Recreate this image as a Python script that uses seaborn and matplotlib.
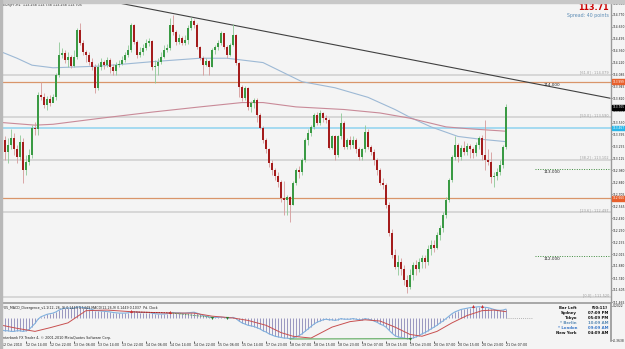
import matplotlib
matplotlib.use("Agg")
import matplotlib.pyplot as plt
import numpy as np
import pandas as pd
import seaborn as sns

# ---------------- data ----------------
first_open = 113.13
closes = [113.33,113.19,113.27,113.35,113.22,113.13,113.31,112.98,113.08,113.16,
          113.47,113.45,113.85,113.82,113.73,113.80,113.76,113.82,114.08,114.31,
          114.33,114.25,114.28,114.18,114.28,114.60,114.45,114.34,114.31,114.23,
          114.17,113.93,114.17,114.23,114.19,114.25,114.17,114.12,114.19,114.20,
          114.25,114.31,114.37,114.65,114.46,114.31,114.34,114.39,114.45,114.47,
          114.17,114.18,114.23,114.28,114.37,114.39,114.65,114.57,114.46,114.50,
          114.45,114.48,114.62,114.70,114.65,114.40,114.27,114.19,114.24,114.17,
          114.37,114.40,114.45,114.56,114.40,114.31,114.42,114.54,114.22,113.94,
          113.81,113.93,113.71,113.76,113.79,113.62,113.47,113.33,113.22,113.07,
          112.98,112.92,112.85,112.66,112.64,112.67,112.58,112.84,112.98,112.96,
          113.10,113.33,113.41,113.48,113.62,113.53,113.64,113.58,113.56,113.24,
          113.37,113.16,113.37,113.53,113.25,113.33,113.27,113.33,113.22,113.13,
          113.22,113.42,113.25,113.19,113.10,112.98,112.84,112.81,112.58,112.26,
          112.01,111.87,111.93,111.84,111.72,111.64,111.78,111.89,111.84,111.93,
          111.97,111.93,112.07,112.12,112.09,112.24,112.32,112.47,112.64,112.87,
          113.13,113.27,113.13,113.24,113.19,113.26,113.22,113.18,113.27,113.35,
          113.16,113.10,113.08,112.90,112.92,112.96,113.04,113.25,113.705]
highs = [113.42,113.37,113.35,113.45,113.41,113.27,113.39,113.35,113.16,113.22,
         113.50,113.54,113.88,114.00,113.87,113.84,113.85,113.86,114.10,114.46,
         114.39,114.37,114.34,114.31,114.37,114.62,114.68,114.48,114.37,114.34,
         114.27,114.20,114.22,114.27,114.25,114.28,114.27,114.20,114.23,114.25,
         114.30,114.34,114.42,114.68,114.66,114.48,114.40,114.43,114.49,114.50,
         114.48,114.25,114.27,114.34,114.42,114.43,114.73,114.77,114.60,114.55,
         114.53,114.54,114.65,114.74,114.72,114.68,114.41,114.30,114.27,114.25,
         114.39,114.42,114.48,114.58,114.53,114.42,114.45,114.66,114.55,114.23,
         113.96,113.95,113.94,113.78,113.81,113.81,113.64,113.49,113.35,113.24,
         113.10,113.01,112.96,112.87,112.86,112.70,112.69,112.86,113.01,113.03,
         113.12,113.35,113.45,113.50,113.64,113.65,113.68,113.65,113.62,113.58,
         113.39,113.39,113.39,113.64,113.55,113.35,113.37,113.38,113.35,113.25,
         113.24,113.50,113.45,113.27,113.22,113.12,113.01,112.89,112.84,112.61,
         112.30,112.07,112.01,111.97,111.89,111.78,111.84,111.93,111.95,111.97,
         112.01,112.01,112.12,112.18,112.18,112.27,112.35,112.50,112.67,112.89,
         113.16,113.37,113.30,113.27,113.32,113.30,113.28,113.25,113.31,113.38,
         113.39,113.56,113.22,113.19,112.96,113.01,113.10,113.27,113.738]
lows = [113.04,113.10,113.07,113.22,113.16,113.07,113.10,112.84,112.93,113.04,
        113.12,113.39,113.39,113.79,113.70,113.68,113.72,113.77,113.79,114.05,
        114.27,114.22,114.17,114.16,114.17,114.26,114.42,114.31,114.23,114.19,
        114.13,113.87,113.91,114.13,114.15,114.17,114.10,114.08,114.08,114.17,
        114.19,114.23,114.28,114.34,114.43,114.27,114.28,114.31,114.37,114.41,
        114.13,113.99,114.08,114.20,114.27,114.34,114.37,114.54,114.42,114.43,
        114.42,114.42,114.43,114.60,114.62,114.38,114.25,114.08,114.18,114.08,
        114.17,114.32,114.37,114.42,114.38,114.27,114.30,114.41,114.19,113.82,
        113.78,113.79,113.68,113.65,113.70,113.54,113.45,113.30,113.18,113.02,
        112.93,112.87,112.79,112.61,112.47,112.47,112.39,112.58,112.81,112.89,
        112.93,113.08,113.27,113.38,113.46,113.50,113.50,113.54,113.53,113.22,
        113.22,113.10,113.13,113.34,113.22,113.23,113.22,113.24,113.18,113.10,
        113.10,113.19,113.22,113.16,113.04,112.93,112.81,112.76,112.55,112.23,
        111.97,111.84,111.78,111.78,111.66,111.57,111.61,111.72,111.78,111.81,
        111.86,111.86,111.89,112.01,112.04,112.07,112.18,112.27,112.43,112.62,
        112.85,113.10,113.08,113.10,113.16,113.16,113.12,113.12,113.15,113.22,
        113.10,112.98,113.04,112.84,112.79,112.87,112.93,113.01,113.22]

# moving averages (bar index, price)
ma_blue_bars = [0,5,10,17,33,50,66,75,87,100,111,122,131,136,143,152,159,168]
ma_blue_vals = [114.34,114.27,114.19,114.16,114.18,114.23,114.27,114.27,114.22,114.00,
                113.93,113.82,113.68,113.59,113.48,113.37,113.34,113.31]
ma_pink_bars = [0,11,17,33,50,66,80,87,98,114,126,131,136,148,155,168]
ma_pink_vals = [113.53,113.50,113.51,113.58,113.65,113.71,113.76,113.76,113.71,113.68,
                113.64,113.61,113.58,113.48,113.46,113.43]

trend_bars = [35.3, 202.7]
trend_prices = [114.93, 113.81]

fib_names = ["61.8", "50.0", "38.2", "23.6", "0.0"]
fib_levels = [114.079, 113.590, 113.102, 112.497, 111.520]
orange_levels = [114.000, 112.660]
cyan_level = 113.467
target_levels = [113.000, 112.000]

price_ticks = [114.905,114.770,114.630,114.495,114.360,114.220,114.085,113.945,113.810,
               113.670,113.530,113.395,113.255,113.115,112.980,112.840,112.705,112.565,
               112.430,112.290,112.155,112.015,111.880,111.740,111.605,111.465]

macd = [-0.20,-0.21,-0.21,-0.22,-0.22,-0.21,-0.21,-0.22,-0.21,-0.19,
        -0.14,-0.09,-0.02,0.02,0.04,0.06,0.07,0.08,0.10,0.13,
        0.15,0.16,0.165,0.16,0.16,0.18,0.18,0.17,0.165,0.155,
        0.14,0.12,0.12,0.115,0.11,0.105,0.10,0.09,0.085,0.08,
        0.08,0.08,0.085,0.10,0.10,0.095,0.09,0.09,0.09,0.09,
        0.08,0.07,0.065,0.065,0.065,0.07,0.085,0.09,0.085,0.085,
        0.08,0.08,0.085,0.09,0.095,0.08,0.06,0.04,0.03,0.015,
        0.01,0.01,0.01,0.015,0.01,0.0,0.0,0.01,-0.01,-0.05,
        -0.08,-0.10,-0.12,-0.13,-0.14,-0.16,-0.18,-0.21,-0.23,-0.26,
        -0.28,-0.30,-0.31,-0.32,-0.33,-0.33,-0.34,-0.33,-0.31,-0.29,
        -0.26,-0.22,-0.18,-0.14,-0.10,-0.07,-0.05,-0.03,-0.02,-0.03,
        -0.03,-0.04,-0.03,-0.01,-0.02,-0.02,-0.02,-0.01,-0.02,-0.03,
        -0.03,-0.01,-0.02,-0.03,-0.05,-0.07,-0.10,-0.12,-0.15,-0.20,
        -0.25,-0.29,-0.31,-0.32,-0.33,-0.34,-0.34,-0.33,-0.31,-0.29,
        -0.26,-0.24,-0.21,-0.18,-0.15,-0.12,-0.08,-0.05,-0.01,0.03,
        0.07,0.10,0.12,0.14,0.15,0.16,0.17,0.175,0.18,0.185,
        0.18,0.175,0.17,0.155,0.14,0.13,0.125,0.13,0.145]
signal_bars = [0,5,11,16,22,28,35,44,56,64,70,77,82,88,93,97,103,
               110,116,121,126,131,136,140,145,150,155,160,164,168]
signal_vals = [-0.12,-0.17,-0.22,-0.16,-0.08,0.12,0.13,0.10,0.08,0.08,0.03,0.0,-0.04,
               -0.12,-0.24,-0.30,-0.33,-0.15,-0.06,-0.03,-0.05,-0.15,-0.27,-0.30,
               -0.22,-0.08,0.04,0.12,0.13,0.104]

date_ticks = list(range(0, 169, 8))
date_labels = ["12 Oct 2010","12 Oct 14:00","12 Oct 22:00","13 Oct 06:00","13 Oct 14:00",
               "13 Oct 22:00","14 Oct 06:00","14 Oct 14:00","14 Oct 22:00","15 Oct 06:00",
               "15 Oct 14:00","17 Oct 23:00","18 Oct 07:00","18 Oct 15:00","18 Oct 23:00",
               "19 Oct 07:00","19 Oct 15:00","19 Oct 23:00","20 Oct 07:00","20 Oct 15:00",
               "20 Oct 23:00","21 Oct 07:00"]

clock_names = ["Bar Left", "Sydney", "Tokyo", "* Berlin", "* London", "New York"]
clock_times = ["[50:11]", "07:09 PM", "05:09 PM", "10:09 AM", "09:09 AM", "04:09 AM"]

# ---------------- figure ----------------
sns.set_theme(style="white")
plt.rcParams["font.family"] = ["DejaVu Sans"]
W, H = 625, 349
bg = "#F4F4F4"
fig = plt.figure(figsize=(W/100, H/100), dpi=100, facecolor=bg)

def fx(px):
    return px / W
def fy(py):
    return 1 - py / H

ax = fig.add_axes([0, fy(302), fx(611), 302/H], facecolor=bg)
axi = fig.add_axes([0, fy(341), fx(611), 38/H], facecolor=bg, sharex=ax)

n = len(closes)
idx = np.arange(n)
opens = [first_open] + closes[:-1]
df = pd.DataFrame({"bar": idx, "open": opens, "high": highs, "low": lows, "close": closes})
df["up"] = df["close"] >= df["open"]

xmin = -2/3
xmax = (611 - 2) / 3
ax.set_xlim(xmin, xmax)
ax.set_ylim(114.94 - 0.0115*302, 114.94)

# horizontal levels
for lv in fib_levels:
    ax.axhline(lv, color="#CFCFCF", lw=1.1, zorder=1)
for lv in orange_levels:
    ax.axhline(lv, color="#D9956A", lw=0.9, zorder=1)
ax.axhline(cyan_level, color="#8FD3F0", lw=1.1, zorder=1)
for lv in target_levels:
    ax.plot([177.7, xmax], [lv, lv], color="#3D8B3D", lw=0.7, ls=(0, (1, 1.5)), zorder=1)

# moving averages
sns.lineplot(x=ma_blue_bars, y=ma_blue_vals, ax=ax, color="#9DB9D5", lw=0.8, zorder=2)
sns.lineplot(x=ma_pink_bars, y=ma_pink_vals, ax=ax, color="#C98A98", lw=0.8, zorder=2)

# trend line
ax.plot(trend_bars, trend_prices, color="#404040", lw=0.8, zorder=3)

# candles
bull_body, bear_body = "#3A9A44", "#A41C1C"
bull_wick, bear_wick = "#8EC896", "#D69A9A"
up = df[df["up"]]
dn = df[~df["up"]]
ax.vlines(up["bar"], up["low"], up["high"], color=bull_wick, lw=0.6, zorder=4)
ax.vlines(dn["bar"], dn["low"], dn["high"], color=bear_wick, lw=0.6, zorder=4)
hb_up = np.maximum((up["close"] - up["open"]).values, 0.004)
hb_dn = np.maximum((dn["open"] - dn["close"]).values, 0.004)
ax.bar(up["bar"], hb_up, bottom=up["open"], width=0.62, color=bull_body, lw=0, zorder=5)
ax.bar(dn["bar"], hb_dn, bottom=dn["close"], width=0.62, color=bear_body, lw=0, zorder=5)

# price axis on right
ax.yaxis.tick_right()
ax.set_yticks(price_ticks)
ax.set_yticklabels([f"{t:.3f}" for t in price_ticks], fontsize=2.15, color="#202020")
ax.tick_params(axis="y", length=1.0, width=0.5, pad=0.3, colors="#202020", right=True)
ax.tick_params(axis="x", bottom=False, labelbottom=False)
ax.set_xlabel("")
ax.set_ylabel("")
for s in ["top", "left", "bottom"]:
    ax.spines[s].set_visible(False)
ax.spines["right"].set_color("#9A9A9A")
ax.spines["right"].set_linewidth(1.0)

# fib labels
for nm, lv in zip(fib_names, fib_levels):
    ax.text(609/611, lv, f"[{nm}] : {lv:.3f}", transform=ax.get_yaxis_transform(),
            ha="right", va="bottom", fontsize=2.5, color="#9C9C9C", zorder=6)
# level labels
for lv, txt in zip([114.0] + target_levels, ["114.000", "113.000", "112.000"]):
    ax.text(180.5, lv - 0.012, txt, ha="left", va="top", fontsize=3.0, color="#202020", zorder=6)

# axis boxes
def axbox(val, txt, fc, tc):
    ax.text(1.0025, val, txt, transform=ax.get_yaxis_transform(), ha="left", va="center",
            fontsize=2.1, color=tc, clip_on=False, zorder=10,
            bbox=dict(boxstyle="square,pad=0.15", fc=fc, ec=fc))
axbox(orange_levels[0], "113.999", "#E8602C", "white")
axbox(orange_levels[1], "112.660", "#E8602C", "white")
axbox(closes[-1], "113.705", "#000000", "white")
axbox(cyan_level, "113.467", "#29B6E8", "white")

# headers
ax.text(3/611, 1 - 5/302, "EURJPY,H1  113.258 113.738 113.258 113.705", transform=ax.transAxes,
        ha="left", va="center", fontsize=2.4, color="#202020")
ax.text(609/611, 1 - 8/302, "113.71", transform=ax.transAxes, ha="right", va="center",
        fontsize=5.8, fontweight="bold", color="#CC0000")
ax.text(609/611, 1 - 15.5/302, "Spread: 40 points", transform=ax.transAxes, ha="right",
        va="center", fontsize=3.4, color="#5C8CB5")

# ---------------- indicator ----------------
axi.set_ylim(-0.378, 0.246)
axi.vlines(idx, 0, macd, color="#8A88B8", lw=0.6, zorder=2)
sns.lineplot(x=idx, y=macd, ax=axi, color="#7FB0DE", lw=0.8, zorder=3)
sns.lineplot(x=signal_bars, y=signal_vals, ax=axi, color="#C85050", lw=0.7, zorder=3)
axi.plot([n - 1, n + 8], [0, 0], color="#A0A0A0", lw=0.6, ls=(0, (1, 1.5)))
# divergence marks
axi.plot([96, 136], [-0.345, -0.34], color="#5DAA5D", lw=0.8, zorder=4)
axi.plot([43, 56], [0.10, 0.085], color="#A02020", lw=0.6, ls=(0, (2, 1)), zorder=4)
axi.plot([56, 70], [0.085, 0.01], color="#3D8B3D", lw=0.6, ls=(0, (1, 1)), zorder=4)
axi.scatter([43, 56, 157, 160], [0.115, 0.10, 0.20, 0.20], marker="^", s=5, color="#D03030", zorder=5, lw=0)
axi.scatter([70, 75, 136], [0.0, 0.0, -0.35], marker="v", s=5, color="#2E7D32", zorder=5, lw=0)

axi.yaxis.tick_right()
axi.set_yticks([0.2022, -0.3638])
axi.set_yticklabels(["0.2022", "-0.3638"], fontsize=2.15, color="#202020")
axi.tick_params(axis="y", length=1.0, width=0.5, pad=0.3, right=True)
axi.set_xticks(date_ticks)
axi.set_xticklabels(date_labels, fontsize=2.3, ha="left", color="#202020")
axi.tick_params(axis="x", length=1.5, width=0.5, pad=0.3, bottom=True)
axi.set_xlabel("")
axi.set_ylabel("")
for s in ["left", "bottom"]:
    axi.spines[s].set_visible(False)
axi.spines["top"].set_color("#9A9A9A")
axi.spines["top"].set_linewidth(1.2)
axi.spines["right"].set_color("#9A9A9A")

axi.text(2/611, 1 - 5/38, "FX5_MACD_Divergence_v1.1(12, 26, 9) 0.1449 0.1449 MACD(12,26,9) 0.1449 0.1037  Pd. Clock",
         transform=axi.transAxes, ha="left", va="center", fontsize=2.3, color="#202020")
axi.text(2/611, 1 - 35.5/38, "Interbank FX Trader 4, \u00a9 2001-2010 MetaQuotes Software Corp.",
         transform=axi.transAxes, ha="left", va="center", fontsize=2.4, color="#202020")
time_colors = ["#101010", "#101010", "#101010", "#5C8CB5", "#3A78C8", "#101010"]
for k, (nm, tm) in enumerate(zip(clock_names, clock_times)):
    yy = 1 - (5 + 4.9*k)/38
    axi.text(577/611, yy, nm, transform=axi.transAxes, ha="right", va="center",
             fontsize=2.8, fontweight="bold", color=time_colors[k])
    axi.text(608/611, yy, tm, transform=axi.transAxes, ha="right", va="center",
             fontsize=2.8, fontweight="bold", color=time_colors[k])

# frame
fig.patches.append(plt.Rectangle((0, fy(3)), 1, 3/H, transform=fig.transFigure, color="#C8C8C8", zorder=20))
fig.patches.append(plt.Rectangle((0, 0), 2/W, 1, transform=fig.transFigure, color="#B8B8B8", zorder=20))

fig.savefig("out.png", dpi=100, facecolor=fig.get_facecolor())
